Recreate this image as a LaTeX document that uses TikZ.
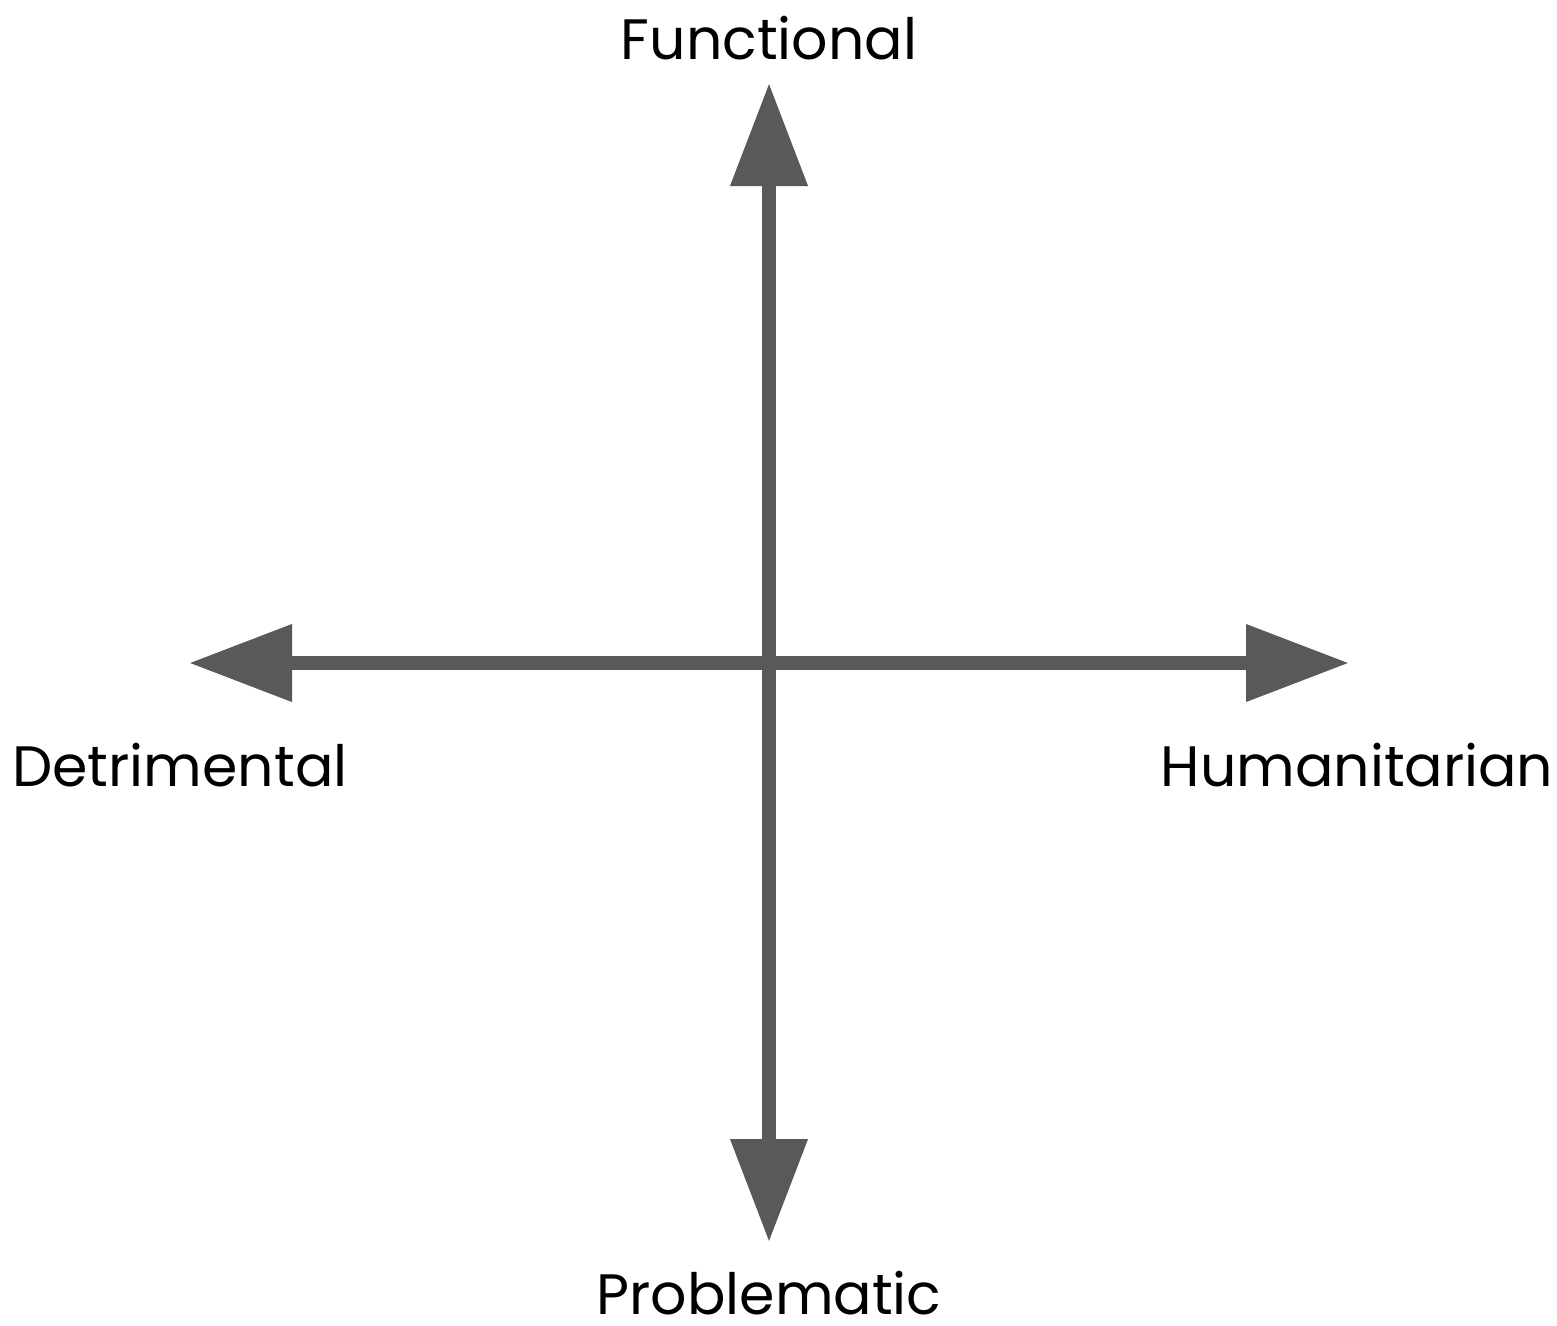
\documentclass[tikz,border=0pt]{standalone}
\usepackage{fontspec}
\setmainfont{Poppins}
\usetikzlibrary{arrows.meta}
\definecolor{axisgray}{HTML}{595959}
\tikzset{
  axis/.style={{Triangle[length=1.03cm,width=0.74cm]}-{Triangle[length=1.03cm,width=0.74cm]}, axisgray, line width=0.14cm},
  lab/.style={text=black, font=\fontsize{16.2}{19}\selectfont, inner sep=0pt},
}
\begin{document}
\begin{tikzpicture}
  \useasboundingbox (0,0) rectangle (15.57,-13.25);
  % axis ends
  \coordinate (top) at (7.69,-0.83);
  \coordinate (bottom) at (7.69,-12.42);
  \coordinate (left) at (1.89,-6.63);
  \coordinate (right) at (13.49,-6.63);

  \draw[axis] (left) -- (right);
  \draw[axis] (bottom) -- (top);

  % labels
  \node[lab] (functional) at (7.69,-0.38) {Functional};
  \node[lab] (problematic) at (7.69,-12.93) {Problematic};
  \node[lab] (detrimental) at (1.80,-7.65) {Detrimental};
  \node[lab] (humanitarian) at (13.57,-7.65) {Humanitarian};
\end{tikzpicture}
\end{document}
